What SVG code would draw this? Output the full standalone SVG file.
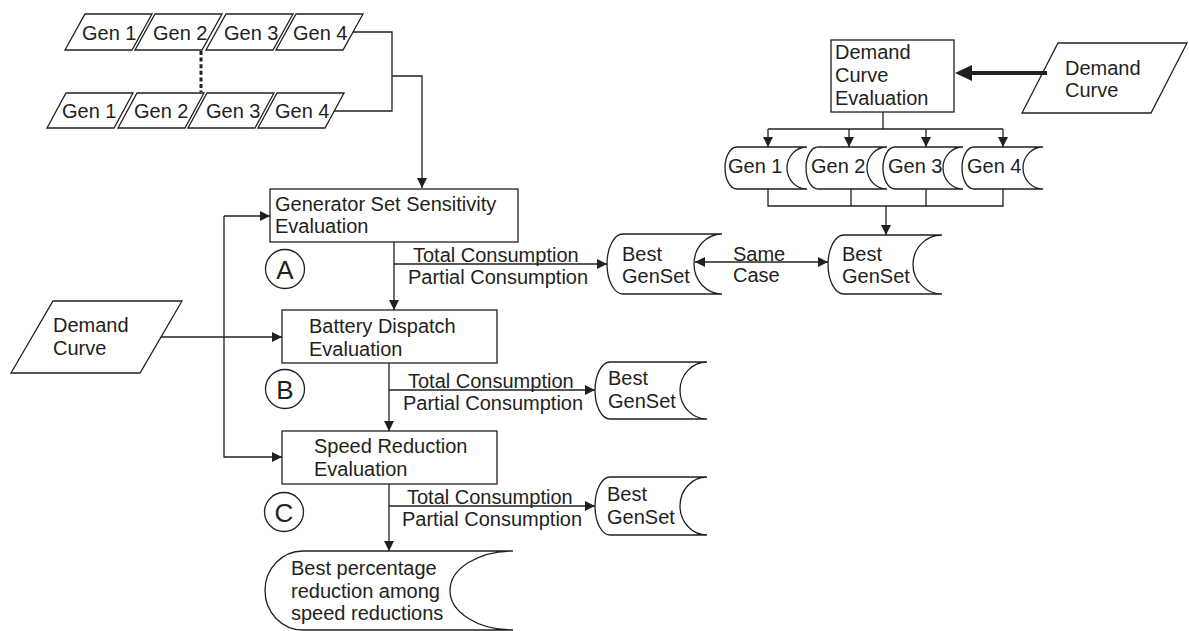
<svg xmlns="http://www.w3.org/2000/svg" width="1189" height="631" viewBox="0 0 1189 631">
<defs>
<style>
.s{fill:#fff;stroke:#231f20;stroke-width:1.3}
.p{fill:none;stroke:#231f20;stroke-width:1.3}
.c{fill:none;stroke:#231f20;stroke-width:1.3}
.t{font-family:"Liberation Sans",Arial,sans-serif;font-size:20px;fill:#231f20}
.L{font-family:"Liberation Sans",Arial,sans-serif;font-size:26px;fill:#231f20;text-anchor:middle}
</style>
<marker id="ah" viewBox="0 0 10 10" refX="10" refY="5" markerWidth="10" markerHeight="10" markerUnits="userSpaceOnUse" orient="auto-start-reverse"><path d="M0,0 L10,5 L0,10 z" fill="#231f20"/></marker>
<marker id="ahT" viewBox="0 0 17 16" refX="0" refY="8" markerWidth="17" markerHeight="16" markerUnits="userSpaceOnUse" orient="auto"><path d="M0,0 L17,8 L0,16 z" fill="#231f20"/></marker>
</defs>
<rect width="1189" height="631" fill="#fff"/>

<g id="connectors">
<path class="c" d="M353,32 H392 V111 H334"/>
<path class="c" d="M392,76 H422 V188" marker-end="url(#ah)"/>
<line x1="201" y1="51" x2="201" y2="92" stroke="#231f20" stroke-width="3" stroke-dasharray="4 2.6"/>
<path class="c" d="M394,242 V310" marker-end="url(#ah)"/>
<path class="c" d="M394,264 H607" marker-end="url(#ah)"/>
<path class="c" d="M389,363 V431" marker-end="url(#ah)"/>
<path class="c" d="M389,390 H595" marker-end="url(#ah)"/>
<path class="c" d="M389,484 V551" marker-end="url(#ah)"/>
<path class="c" d="M389,506 H595" marker-end="url(#ah)"/>
<path class="c" d="M224,216 H270" marker-end="url(#ah)"/>
<path class="c" d="M224,216 V457 H282" marker-end="url(#ah)"/>
<path class="c" d="M161,337 H282" marker-end="url(#ah)"/>
<path class="c" d="M695,262 H828" marker-start="url(#ah)" marker-end="url(#ah)"/>
<line x1="1047" y1="73" x2="972" y2="73" stroke="#231f20" stroke-width="4" marker-end="url(#ahT)"/>
<path class="c" d="M883,112 V129"/>
<path class="c" d="M768,129 H1003"/>
<path class="c" d="M768,129 V147" marker-end="url(#ah)"/>
<path class="c" d="M849,129 V147" marker-end="url(#ah)"/>
<path class="c" d="M926,129 V147" marker-end="url(#ah)"/>
<path class="c" d="M1003,129 V147" marker-end="url(#ah)"/>
<path class="c" d="M768,189 V206 H1003 V189"/>
<path class="c" d="M851,189 V206"/>
<path class="c" d="M926,189 V206"/>
<path class="c" d="M886,206 V235" marker-end="url(#ah)"/>
</g>

<g id="gen-top-1"><polygon class="p" points="85,14 152,14 132,50 65,50"/><text class="t" x="82" y="40">Gen 1</text></g>
<g id="gen-top-2"><polygon class="p" points="155,14 222,14 202,50 135,50"/><text class="t" x="153" y="40">Gen 2</text></g>
<g id="gen-top-3"><polygon class="p" points="226,14 293,14 273,50 206,50"/><text class="t" x="224" y="40">Gen 3</text></g>
<g id="gen-top-4"><polygon class="p" points="296,14 363,14 343,50 276,50"/><text class="t" x="293" y="40">Gen 4</text></g>

<g id="gen-bot-1"><polygon class="p" points="66,93 133,93 114,128 47,128"/><text class="t" x="62" y="118">Gen 1</text></g>
<g id="gen-bot-2"><polygon class="p" points="137,93 204,93 185,128 118,128"/><text class="t" x="134" y="118">Gen 2</text></g>
<g id="gen-bot-3"><polygon class="p" points="207,93 274,93 255,128 188,128"/><text class="t" x="206" y="118">Gen 3</text></g>
<g id="gen-bot-4"><polygon class="p" points="277,93 344,93 325,128 258,128"/><text class="t" x="275" y="118">Gen 4</text></g>

<g id="gen-sensitivity"><rect class="s" x="270" y="189" width="248" height="53"/><text class="t" x="275" y="211">Generator Set Sensitivity</text><text class="t" x="275" y="233">Evaluation</text></g>
<g id="battery"><rect class="s" x="282" y="310" width="215" height="53"/><text class="t" x="309" y="333">Battery Dispatch</text><text class="t" x="309" y="356">Evaluation</text></g>
<g id="speed"><rect class="s" x="282" y="431" width="215" height="53"/><text class="t" x="314" y="453">Speed Reduction</text><text class="t" x="314" y="476">Evaluation</text></g>

<g id="label-a"><circle class="p" cx="285" cy="269" r="19.5"/><text class="L" x="285" y="278.5">A</text></g>
<g id="label-b"><circle class="p" cx="285" cy="389" r="19.5"/><text class="L" x="285" y="398.5">B</text></g>
<g id="label-c"><circle class="p" cx="284" cy="512" r="19.5"/><text class="L" x="284" y="521.5">C</text></g>

<g id="flow-a-text"><text class="t" x="413" y="262">Total Consumption</text><text class="t" x="408" y="284">Partial Consumption</text></g>
<g id="flow-b-text"><text class="t" x="408" y="388">Total Consumption</text><text class="t" x="403" y="410">Partial Consumption</text></g>
<g id="flow-c-text"><text class="t" x="407" y="504">Total Consumption</text><text class="t" x="402" y="526">Partial Consumption</text></g>

<g id="demand-left"><polygon class="p" points="53,301 182,301 140,373 11,373"/><text class="t" x="53" y="332">Demand</text><text class="t" x="53" y="355">Curve</text></g>

<g id="best-a"><path class="s" d="M623,234 H722 A28,30 0 0 0 722,294 H623 A16,30 0 0 1 623,234 Z"/><text class="t" x="622" y="261">Best</text><text class="t" x="622" y="283">GenSet</text></g>
<g id="same-case"><text class="t" x="733" y="261">Same</text><text class="t" x="733" y="282">Case</text></g>
<g id="best-right"><path class="s" d="M844,235 H942 A29,29.5 0 0 0 942,294 H844 A16,29.5 0 0 1 844,235 Z"/><text class="t" x="842" y="261">Best</text><text class="t" x="842" y="283">GenSet</text></g>
<g id="best-b"><path class="s" d="M610,362 H707 A27,28.5 0 0 0 707,419 H610 A15,28.5 0 0 1 610,362 Z"/><text class="t" x="608" y="385">Best</text><text class="t" x="608" y="408">GenSet</text></g>
<g id="best-c"><path class="s" d="M610,477 H707 A27,29 0 0 0 707,535 H610 A15,29 0 0 1 610,477 Z"/><text class="t" x="607" y="501">Best</text><text class="t" x="607" y="524">GenSet</text></g>

<g id="best-percentage"><path class="s" d="M303,551 H513 A63,39.5 0 0 0 513,630 H303 A38,39.5 0 0 1 303,551 Z"/><text class="t" x="291" y="575">Best percentage</text><text class="t" x="291" y="598">reduction among</text><text class="t" x="291" y="620">speed reductions</text></g>

<g id="demand-eval"><rect class="s" x="831" y="40" width="123" height="72"/><text class="t" x="835" y="59">Demand</text><text class="t" x="835" y="82">Curve</text><text class="t" x="835" y="105">Evaluation</text></g>
<g id="demand-right"><polygon class="p" points="1058,43 1187,43 1151,113 1022,113"/><text class="t" x="1065" y="75">Demand</text><text class="t" x="1065" y="97">Curve</text></g>

<g id="store-gen-1"><path class="s" d="M737,147 H807 A20,21 0 0 0 807,189 H737 A12,21 0 0 1 737,147 Z"/><text class="t" x="728" y="173">Gen 1</text></g>
<g id="store-gen-2"><path class="s" d="M818,147 H887 A20,21 0 0 0 887,189 H818 A12,21 0 0 1 818,147 Z"/><text class="t" x="811" y="173">Gen 2</text></g>
<g id="store-gen-3"><path class="s" d="M895,147 H963 A20,21 0 0 0 963,189 H895 A12,21 0 0 1 895,147 Z"/><text class="t" x="888" y="173">Gen 3</text></g>
<g id="store-gen-4"><path class="s" d="M974,147 H1043 A20,21 0 0 0 1043,189 H974 A12,21 0 0 1 974,147 Z"/><text class="t" x="967" y="173">Gen 4</text></g>
</svg>
